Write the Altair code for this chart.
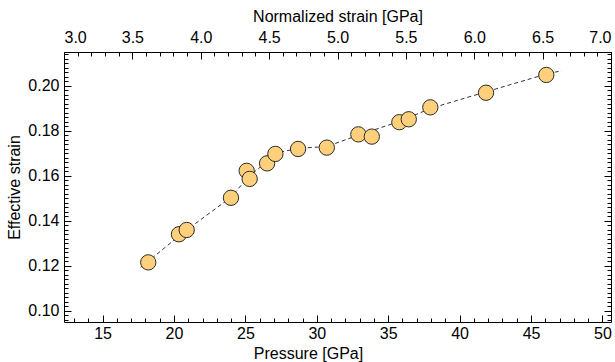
import altair as alt
import pandas as pd

# Data
pressure = [18.20, 20.35, 20.89, 23.99, 25.09, 25.30, 26.52, 27.10, 28.69, 30.70,
            32.91, 33.85, 35.78, 36.44, 37.95, 41.85, 46.07]
strain = [0.1215, 0.1340, 0.1359, 0.1502, 0.1622, 0.1586, 0.1655, 0.1697, 0.1719, 0.1725,
          0.1784, 0.1774, 0.1838, 0.1851, 0.1904, 0.1969, 0.2048]

fit_p = [17.67, 18.2, 20.6, 24.0, 25.2, 26.5, 27.1, 28.7, 30.7, 32.9, 35.8, 38.0, 41.85, 46.07, 47.15]
fit_e = [0.1193, 0.1220, 0.1345, 0.1505, 0.1595, 0.1662, 0.1700, 0.1722, 0.1730, 0.1780,
         0.1842, 0.1900, 0.1973, 0.2052, 0.2067]

x_major = [15, 20, 25, 30, 35, 40, 45, 50]
x_minor = list(range(13, 51))
top_major = [3.0, 3.5, 4.0, 4.5, 5.0, 5.5, 6.0, 6.5, 7.0]
top_minor = [round(3.0 + 0.1 * i, 1) for i in range(41)]
y_major = [0.10, 0.12, 0.14, 0.16, 0.18, 0.20]
y_minor = [round(0.096 + 0.002 * i, 3) for i in range(60)]

XDOM = [12.3, 50.6]
TDOM = [3.0, 7.0]
YDOM = [0.095, 0.215]
FONT = "Liberation Sans"
FS = 16
MAJ = 7
MIN = 4

pts = pd.DataFrame({"p": pressure, "e": strain})
fit = pd.DataFrame({"p": fit_p, "e": fit_e})
dummy = pd.DataFrame({"p": [30.0], "n": [5.0], "e": [0.15]})

xs = alt.Scale(domain=XDOM, nice=False, zero=False)
ts = alt.Scale(domain=TDOM, nice=False, zero=False)
ys = alt.Scale(domain=YDOM, nice=False, zero=False)

def ax(orient, values, size, labels=False, title=None, fmt=None, pad=0, flush=False, tpad=0, **extra):
    kw = dict(orient=orient, values=values, tickSize={"expr": str(-size)}, tickColor="black",
              tickWidth=1, domain=False, grid=False, labels=labels,
              labelFont=FONT, labelFontSize=FS, labelColor="black", labelPadding=pad,
              titleFont=FONT, titleFontSize=FS, titleFontWeight="normal", titleColor="black",
              titlePadding=tpad, labelFlush=flush)
    if fmt:
        kw["format"] = fmt
    kw["title"] = title if title else None
    kw.update(extra)
    return alt.Axis(**kw)

line = alt.Chart(fit).mark_line(color="#333333", strokeWidth=1, strokeDash=[4, 3]).encode(
    x=alt.X("p:Q", scale=xs, axis=None),
    y=alt.Y("e:Q", scale=ys, axis=None),
)

points = alt.Chart(pts).mark_circle(size=235, color="#FFD07C", opacity=1,
                                     stroke="#2a2a2a", strokeWidth=1).encode(
    x=alt.X("p:Q", scale=xs, axis=ax("bottom", x_major, MAJ, True, "Pressure [GPa]", "d", MAJ + 3, False, 4,
                                      titleX=244, titleAlign="center", titleAnchor="start")),
    y=alt.Y("e:Q", scale=ys, axis=ax("left", y_major, MAJ, True, "Effective strain", ".2f", MAJ + 5, False, 5)),
)

d1 = alt.Chart(dummy).mark_point(opacity=0).encode(
    x=alt.X("p:Q", scale=xs, axis=ax("bottom", x_minor, MIN)),
    y=alt.Y("e:Q", scale=ys, axis=ax("left", y_minor, MIN)),
)
d2 = alt.Chart(dummy).mark_point(opacity=0).encode(
    x=alt.X("n:Q", scale=ts, axis=ax("top", top_major, MAJ, True, "Normalized strain [GPa]", ".1f", MAJ + 7, True, 5)),
    y=alt.Y("e:Q", scale=ys, axis=ax("right", y_major, MAJ)),
)
d3 = alt.Chart(dummy).mark_point(opacity=0).encode(
    x=alt.X("n:Q", scale=ts, axis=ax("top", top_minor, MIN)),
    y=alt.Y("e:Q", scale=ys, axis=ax("right", y_minor, MIN)),
)

chart = alt.layer(line, points, d1, d2, d3).resolve_scale(
    x="independent", y="independent"
).properties(
    width=547, height=270,
    autosize=alt.AutoSizeParams(type="none"),
    padding={"left": 64, "top": 52, "right": 4, "bottom": 40},
    background="white",
).configure_view(stroke="black", strokeWidth=1)

chart.save("out.html", embed_options={"renderer": "svg", "actions": False})
